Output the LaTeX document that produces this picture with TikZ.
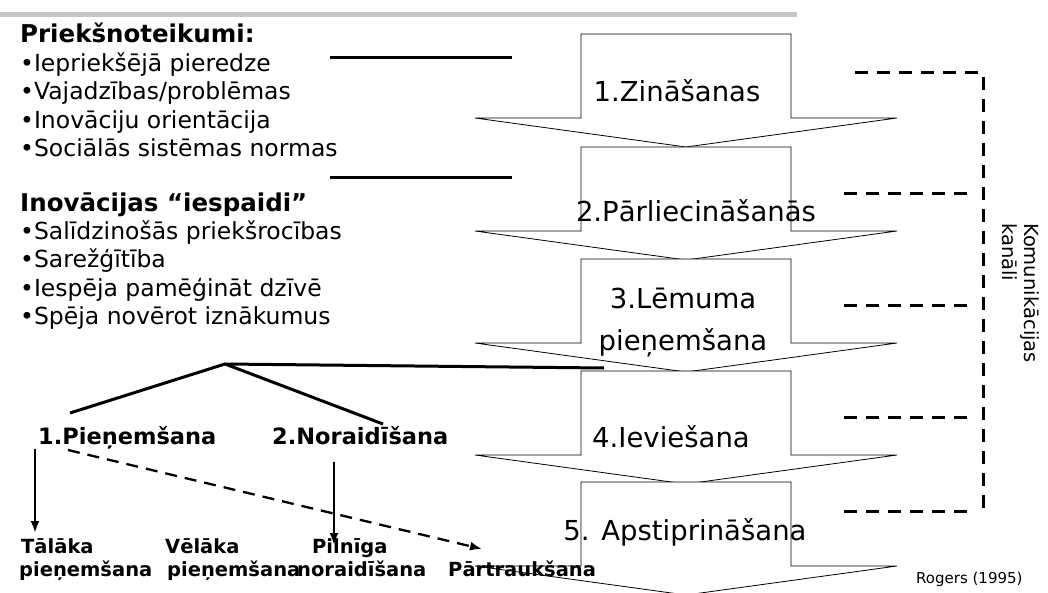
\documentclass[tikz,border=0pt]{standalone}
\usepackage{fontspec}
\setmainfont{DejaVu Sans}
\usepackage{tikz}
\usetikzlibrary{shapes,arrows.meta,calc,positioning}
\tikzset{item/.style={anchor=base west, inner sep=0pt, font=\fontsize{23.5}{28}\selectfont}}
\tikzset{head/.style={item, font=\bfseries\fontsize{24.5}{28}\selectfont}}
\tikzset{stage/.style={anchor=base, inner sep=0pt, align=center, font=\fontsize{27.5}{42}\selectfont}}
\tikzset{stagearrow/.style={draw, fill=white, line width=0.8pt, line join=miter}}
\tikzset{choice/.style={anchor=base west, inner sep=0pt, font=\bfseries\fontsize{22.5}{27}\selectfont}}
\tikzset{outcome/.style={anchor=base west, inner sep=0pt, font=\bfseries\fontsize{19.5}{23}\selectfont}}
\tikzset{pointer/.style={draw, line width=3pt}}
\tikzset{line/.style={draw, line width=2.3pt, -{Latex[length=12pt,width=9pt]}}}
\tikzset{dline/.style={line, dash pattern=on 12pt off 8pt}}
\tikzset{channel/.style={draw, line width=3pt, dash pattern=on 13pt off 9pt}}

\begin{document}
\begin{tikzpicture}[x=1pt, y=-1pt]
        \useasboundingbox (0,0) rectangle (1048,593);
        \fill [gray!45] (0,12) rectangle (797,17);
        % stage arrows
        \foreach \t in {34,147,259,371,482}
            \path [stagearrow] (581,\t) -- ++(210,0) -- ++(0,84) -- ++(106,0)
                -- ++(-211,29) -- ++(-211,-29) -- ++(106,0) -- cycle;
        \node [stage]                  (zin)    at (677,102)  {1.Zināšanas};
        \node [stage]                  (parl)   at (696,222)  {2.Pārliecināšanās};
        \node [stage]                  (lem)    at (683,350)  {3.Lēmuma\\pieņemšana};
        \node [stage]                  (iev)    at (671,447)  {4.Ieviešana};
        \node [stage]                  (apst)   at (685,540)  {5. Apstiprināšana};
        %
        \node [head]                   (pre)    at (20,43)    {Priekšnoteikumi:};
        \foreach \txt [count=\i] in {Iepriekšējā pieredze, Vajadzības/problēmas,
                Inovāciju orientācija, Sociālās sistēmas normas}
            \node [item]               (pre\i)  at (20,43+28.5*\i) {•\txt};
        \node [head]                   (imp)    at (20,212)   {Inovācijas “iespaidi”};
        \foreach \txt [count=\i] in {Salīdzinošās priekšrocības, Sarežģītība,
                Iespēja pamēģināt dzīvē, Spēja novērot iznākumus}
            \node [item]               (imp\i)  at (20,212+28*\i) {•\txt};
        %
        \coordinate (preA) at (330,58);  \coordinate (preB) at (512,58);
        \coordinate (impA) at (330,178); \coordinate (impB) at (512,178);
        \path [pointer] (preA) -- (preB);
        \path [pointer] (impA) -- (impB);
        %
        \node [choice]                 (acc)    at (38,444)   {1.Pieņemšana};
        \node [choice]                 (rej)    at (272,444)  {2.Noraidīšana};
        \node [outcome]                (cont)   at (21,553)   {Tālāka};
        \node [outcome]                (contb)  at (19,576)   {pieņemšana};
        \node [outcome]                (late)   at (165,553)  {Vēlāka};
        \node [outcome]                (lateb)  at (167,576)  {pieņemšana};
        \node [outcome]                (full)   at (312,553)  {Pilnīga};
        \node [outcome]                (fullb)  at (297,576)  {noraidīšana};
        \node [outcome]                (disc)   at (448,576)  {Pārtraukšana};
        %
        \coordinate (fork)    at (225,364);
        \coordinate (forkend) at (604,368);
        \coordinate (accup)   at (70,413);
        \coordinate (rejup)   at (383,424);
        \path [pointer] (forkend) -- (fork) -- (accup);
        \path [pointer] (fork) -- (rejup);
        %
        \coordinate (accA) at (35,449);  \coordinate (accB) at (35,533);
        \coordinate (rejA) at (334,462); \coordinate (rejB) at (334,545);
        \coordinate (dscA) at (68,450);  \coordinate (dscB) at (482,549);
        \path [line]  (accA) -- (accB);
        \path [line]  (rejA) -- (rejB);
        \path [dline] (dscA) -- (dscB);
        %
        \path [channel] (855,73) -- (983,73) -- (983,512);
        \foreach \y in {194,305,417,511}
            \path [channel] (844,\y) -- (968,\y);
        \node [anchor=base west, inner sep=0pt, rotate=-90, align=left,
               font=\fontsize{19.5}{22}\selectfont] (chan) at (1002,223) {Komunikācijas\\kanāli};
        \node [anchor=base west, inner sep=0pt, font=\fontsize{15}{18}\selectfont] (src) at (916,583) {Rogers (1995)};
    \end{tikzpicture}
\end{document}
